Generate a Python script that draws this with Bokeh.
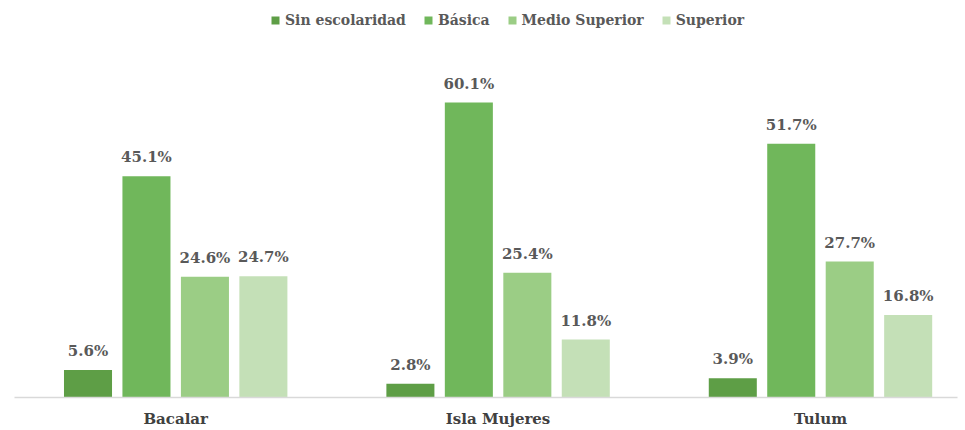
from bokeh.plotting import figure
from bokeh.models import ColumnDataSource, Range1d, Legend, LegendItem, FixedTicker
from bokeh.transform import dodge
from bokeh.core.properties import value
from bokeh.embed import file_html
from bokeh.resources import INLINE
import numpy as np

categories = ["Bacalar", "Isla Mujeres", "Tulum"]
series_names = ["Sin escolaridad", "Básica", "Medio Superior", "Superior"]
sin_escolaridad = [5.6, 2.8, 3.9]
basica = [45.1, 60.1, 51.7]
medio_superior = [24.6, 25.4, 27.7]
superior = [24.7, 11.8, 16.8]
colors = ["#5e9e46", "#70b75b", "#9bcd85", "#c4e0b7"]

series_values = [sin_escolaridad, basica, medio_superior, superior]
offsets = [-0.272, -0.0907, 0.0907, 0.272]

FONT = "DejaVu Serif"

p = figure(width=965, height=430, output_backend="svg", toolbar_location=None,
           x_range=Range1d(-0.5, 2.425), y_range=Range1d(0, 80.9),
           min_border_left=14, min_border_right=8, min_border_top=0, min_border_bottom=20)
p.outline_line_color = None
p.xgrid.grid_line_color = None
p.ygrid.grid_line_color = None
p.yaxis.visible = False

idx = np.arange(len(categories))
items = []
for name, vals, off, col in zip(series_names, series_values, offsets, colors):
    src = ColumnDataSource(dict(x=idx, y=vals, lab=[f"{v:.1f}%" for v in vals]))
    r = p.vbar(x=dodge("x", off), top="y", width=0.149, source=src,
               fill_color=col, line_color=None)
    p.text(x=dodge("x", off), y="y", text="lab", source=src,
           text_align="center", text_baseline="bottom", y_offset=-10,
           text_font=value(FONT), text_font_style="bold", text_font_size="15px",
           text_color="#595959")
    items.append(LegendItem(label=name, renderers=[r]))

legend = Legend(items=items, orientation="horizontal", location=(256, 369),
                label_text_font=FONT, label_text_font_style="bold",
                label_text_font_size="14px", label_text_color="#595959",
                glyph_width=10, glyph_height=10, label_standoff=5, spacing=17,
                padding=4, margin=0, border_line_color=None, background_fill_alpha=0)
p.add_layout(legend, "center")

ax = p.xaxis[0]
ax.ticker = FixedTicker(ticks=list(idx))
ax.major_label_overrides = {int(i): c for i, c in zip(idx, categories)}
ax.axis_line_color = "#d9d9d9"
ax.axis_line_width = 1.5
ax.major_tick_line_color = None
ax.major_tick_out = 0
ax.major_tick_in = 0
ax.minor_tick_line_color = None
ax.minor_tick_out = 0
ax.major_label_standoff = 12
ax.major_label_text_font = FONT
ax.major_label_text_font_style = "bold"
ax.major_label_text_font_size = "15px"
ax.major_label_text_color = "#404040"

open("out.html", "w").write(file_html(p, INLINE))
